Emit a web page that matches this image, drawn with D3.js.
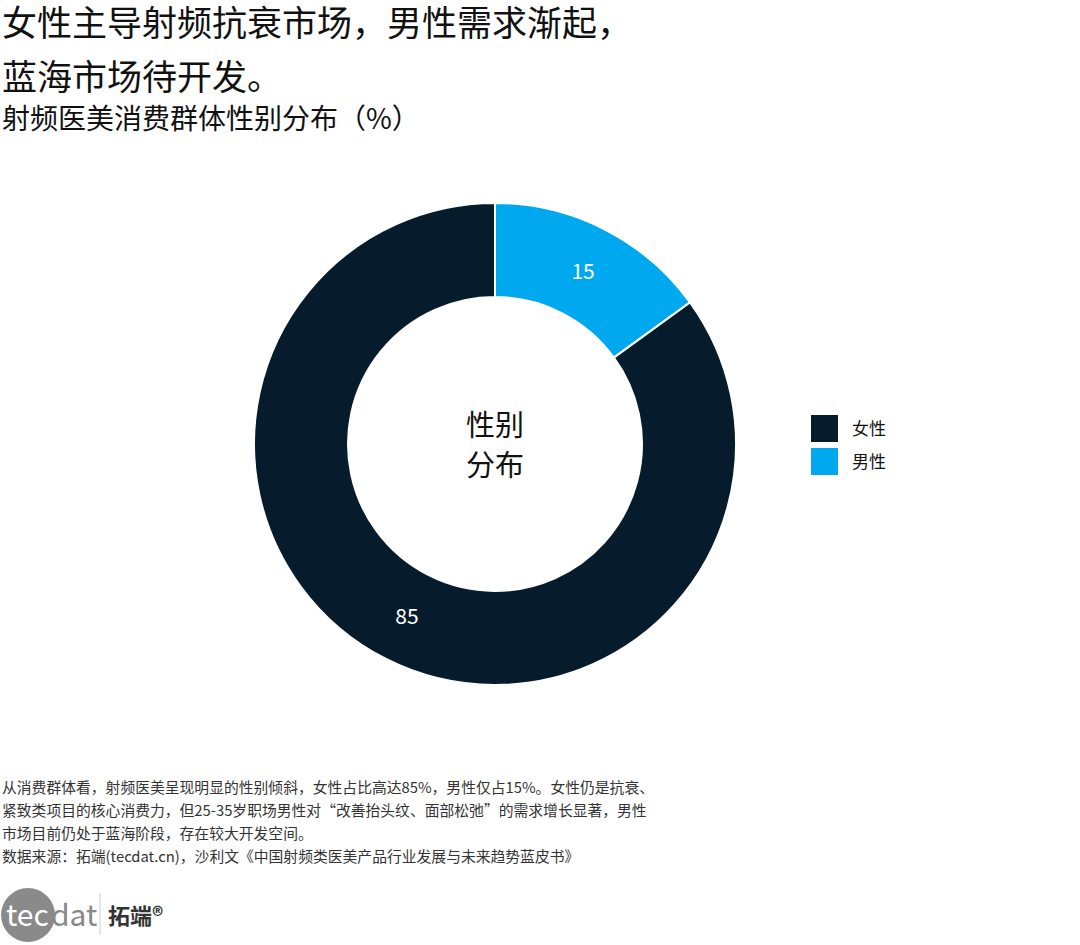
<!DOCTYPE html>
<html><head><meta charset="utf-8">
<script src="https://cdn.jsdelivr.net/npm/d3@7"></script>
<style>body{margin:0;background:#fff}text{font-family:"Noto Sans CJK SC","Noto Sans",sans-serif}</style>
</head><body><svg id="c" width="1080" height="945"></svg>
<script>
const categories = ["男性","女性"];
const values = [15, 85];
const legendOrder = ["女性","男性"];
const colors = {"女性":"#061c2c","男性":"#00a8f0"};
const titleLines = ["女性主导射频抗衰市场，男性需求渐起，","蓝海市场待开发。"];
const subtitle = "射频医美消费群体性别分布（%）";
const notes = ["从消费群体看，射频医美呈现明显的性别倾斜，女性占比高达85%，男性仅占15%。女性仍是抗衰、",
"紧致类项目的核心消费力，但25-35岁职场男性对“改善抬头纹、面部松弛”的需求增长显著，男性",
"市场目前仍处于蓝海阶段，存在较大开发空间。",
"数据来源：拓端(tecdat.cn)，沙利文《中国射频类医美产品行业发展与未来趋势蓝皮书》"];
const svg = d3.select("#c");
titleLines.forEach((t,i)=>svg.append("text").attr("x",2).attr("y",36+i*54).attr("font-size",35).attr("fill","#111").text(t));
svg.append("text").attr("x",2).attr("y",129).attr("font-size",28).attr("fill","#111").text(subtitle);
const cx=495, cy=444, R=241, r=147;
const data = categories.map((c,i)=>({c,v:values[i]}));
const pie = d3.pie().value(d=>d.v).sort(null);
const arc = d3.arc().innerRadius(r).outerRadius(R);
const g = svg.append("g").attr("transform",`translate(${cx},${cy})`);
const arcs = pie(data);
g.selectAll("path").data(arcs).join("path").attr("d",arc).attr("fill",d=>colors[d.data.c]).attr("stroke","#fff").attr("stroke-width",2);
const lab = d3.arc().innerRadius((r+R)/2).outerRadius((r+R)/2);
g.selectAll("text.v").data(arcs).join("text").attr("class","v")
 .attr("transform",d=>{const [x,y]=lab.centroid(d);return `translate(${x},${y})`;})
 .attr("text-anchor","middle").attr("dy","0.35em").attr("font-size",21).attr("fill","#fff")
 .attr("font-family","DejaVu Serif, serif").text(d=>d.data.v);
g.append("text").attr("text-anchor","middle").attr("y",-8).attr("font-size",29).attr("fill","#111").text("性别");
g.append("text").attr("text-anchor","middle").attr("y",32).attr("font-size",29).attr("fill","#111").text("分布");
legendOrder.forEach((c,i)=>{
 svg.append("rect").attr("x",811).attr("y",415+i*33).attr("width",27).attr("height",27).attr("fill",colors[c]);
 svg.append("text").attr("x",852).attr("y",435+i*33).attr("font-size",17).attr("fill","#111").text(c);
});
notes.forEach((t,i)=>svg.append("text").attr("x",2).attr("y",793+i*23).attr("font-size",14.8).attr("fill","#333").text(t));
svg.append("circle").attr("cx",28).attr("cy",915).attr("r",27).attr("fill","#8a8a8a");
svg.append("text").attr("x",6).attr("y",926).attr("font-size",30).attr("fill","#fff").attr("font-family","Roboto,sans-serif").text("tec");
svg.append("text").attr("x",51).attr("y",926).attr("font-size",30).attr("fill","#888").attr("font-family","Roboto,sans-serif").text("dat");
svg.append("line").attr("x1",100).attr("x2",100).attr("y1",893).attr("y2",935).attr("stroke","#ccc");
svg.append("text").attr("x",108).attr("y",924).attr("font-size",22).attr("font-weight","bold").attr("fill","#333").text("拓端®");
</script></body></html>
